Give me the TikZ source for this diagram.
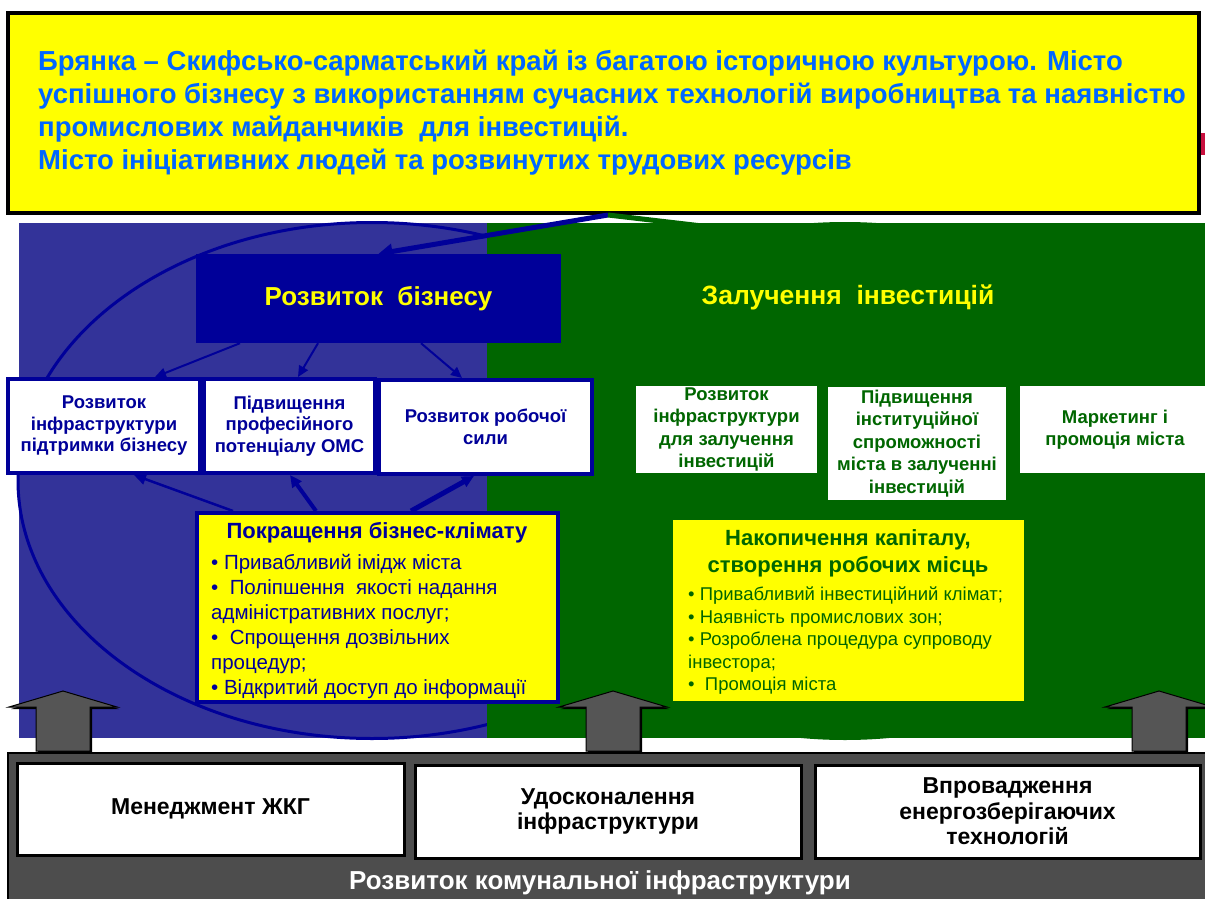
\documentclass[tikz,border=0pt]{standalone}
\usepackage{fontspec}
\setmainfont{Liberation Sans}
\usetikzlibrary{arrows.meta,calc}

\definecolor{bizblue}{HTML}{333399}
\definecolor{navy}{HTML}{000099}
\definecolor{invgreen}{HTML}{006600}
\definecolor{hlyellow}{HTML}{FFFF00}
\definecolor{visionblue}{HTML}{0066FF}
\definecolor{panelgray}{HTML}{4D4D4D}
\definecolor{arrowgray}{HTML}{555555}
\definecolor{accentred}{HTML}{C8103E}

\newcommand{\fs}[2]{\fontsize{#1}{#2}\selectfont}

\begin{document}
\begin{tikzpicture}[x=1pt,y=-1pt,
  navybox/.style={draw=navy, line width=4pt, fill=white, inner sep=0pt,
    text=navy, align=center, font=\bfseries\fs{18.5}{21.5}},
  greenbox/.style={fill=white, inner sep=0pt, text=invgreen, align=center,
    font=\bfseries\fs{18.5}{22.5}},
  basebox/.style={draw=black, line width=3pt, fill=white, inner sep=0pt,
    text=black, align=center, font=\bfseries\fs{23}{25.5}},
  thinlink/.style={navy, line width=2pt, -{Triangle[length=11pt,width=10pt]}},
  uplink/.style={navy, -{Triangle[length=12pt,width=11pt]}},
  blockarrow/.style={fill=arrowgray, draw=black, line width=1pt, line join=miter},
]
\useasboundingbox (0,0) rectangle (1205,899);
\fill[white] (0,0) rectangle (1205,899);

% two halves of the strategy field
\fill[bizblue] (19,223) rectangle (487,738);
\draw[navy, line width=3pt] (372,480.5) ellipse [x radius=354pt, y radius=258pt];
\fill[invgreen] (487,223) rectangle (1205,738);
\draw[invgreen, line width=3pt] (845,481) ellipse [x radius=350pt, y radius=257.5pt];

% vision statement
\node[draw=black, line width=4pt, fill=hlyellow, minimum width=1191pt,
  minimum height=200pt, inner sep=0pt] (vision) at (603.5,113) {};
\fill[accentred] (1201,133) rectangle (1205,155);
\node[anchor=west, align=left, inner sep=0pt, text=visionblue,
  font=\bfseries\fs{27.5}{33}] (visiontext) at (38,113)
  {Брянка – Скифсько-сарматський край із багатою історичною культурою. Місто\\
   успішного бізнесу з використанням сучасних технологій виробництва та наявністю\\
   промислових майданчиків\ \ для інвестицій.\\
   Місто ініціативних людей та розвинутих трудових ресурсів};
\coordinate (apex) at ([xshift=4.5pt]vision.south);

% business development branch
\node[fill=navy, minimum width=365pt, minimum height=89pt, inner sep=0pt,
  text=hlyellow, font=\bfseries\fs{26}{30}] (biz) at (378.5,298.5) {Розвиток\ \ бізнесу};
\draw[navy, line width=5pt, -{Triangle[length=14pt,width=15pt]}] (apex) -- (biz.north);

% investment branch
\node[text=hlyellow, font=\bfseries\fs{26.5}{30}, inner sep=0pt] (inv) at (848,297) {Залучення\ \ інвестицій};
\coordinate (invtop) at (848,243);
\draw[invgreen, line width=5pt] (apex) -- (invtop);

\node[navybox, minimum width=192pt, minimum height=94pt] (infra) at (104,426)
  {Розвиток\\інфраструктури\\підтримки бізнесу};
\node[navybox, minimum width=171pt, minimum height=94pt] (oms) at (289.5,426)
  {Підвищення\\професійного\\потенціалу ОМС};
\node[navybox, minimum width=213pt, minimum height=94pt] (labour) at (485.5,427)
  {Розвиток робочої\\сили};

\draw[thinlink] ([xshift=-138.5pt]biz.south) -- ([xshift=51pt]infra.north);
\draw[thinlink] ([xshift=-60.5pt]biz.south) -- ([xshift=8.5pt]oms.north);
\draw[thinlink] ([xshift=42.5pt]biz.south) -- ([xshift=-23.5pt]labour.north);

% business climate
\node[draw=navy, line width=4pt, fill=hlyellow, minimum width=361pt,
  minimum height=189pt, inner sep=0pt] (climate) at (377.5,607.5) {};
\node[text=navy, font=\bfseries\fs{22}{26}, inner sep=0pt] (climatetitle) at (377,533)
  {Покращення бізнес-клімату};
\node[anchor=north west, align=left, text=navy, font=\fs{20.5}{25}, inner sep=0pt]
  (climatelist) at (211,554)
  {• Привабливий імідж міста\\
   •\ \ Поліпшення\ \ якості надання\\
   адміністративних послуг;\\
   •\ \ Спрощення дозвільних\\
   процедур;\\
   • Відкритий доступ до інформації};

\draw[uplink, line width=2.5pt] ([xshift=-144.5pt]climate.north) -- ([xshift=30pt]infra.south);
\draw[uplink, line width=4pt] ([xshift=-61.5pt]climate.north) -- ([xshift=0.5pt]oms.south);
\draw[uplink, line width=5pt] ([xshift=33.5pt]climate.north) -- ([xshift=-11.5pt]labour.south);

% investment boxes
\node[greenbox, minimum width=181pt, minimum height=87pt] (infrainv) at (726.5,429.5)
  {Розвиток\\інфраструктури\\для залучення\\інвестицій};
\node[greenbox, minimum width=178pt, minimum height=113pt] (capacity) at (917,443.5)
  {Підвищення\\інституційної\\спроможності\\міста в залученні\\інвестицій};
\node[greenbox, minimum width=190pt, minimum height=87pt] (marketing) at (1115,429.5)
  {Маркетинг і\\промоція міста};

\node[fill=hlyellow, minimum width=351pt, minimum height=181pt, inner sep=0pt] (capital) at (848.5,610.5) {};
\node[text=invgreen, align=center, font=\bfseries\fs{22}{27}, inner sep=0pt] (capitaltitle) at (848,553)
  {Накопичення капіталу,\\створення робочих місць};
\node[anchor=north west, align=left, text=invgreen, font=\fs{18.5}{22.5}, inner sep=0pt]
  (capitallist) at (688,587)
  {• Привабливий інвестиційний клімат;\\
   • Наявність промислових зон;\\
   • Розроблена процедура супроводу\\
   інвестора;\\
   •\ \ Промоція міста};

% upward block arrows from the utilities base
\foreach \c/\nm in {63/upleft, 613/upmid, 1159/upright}{
  \coordinate (\nm) at (\c,691);
  \fill[black] ([shift={(2pt,-2pt)}]\nm) -- ++(54,16) -- ++(-27,0) -- ++(0,44)
     -- ++(-54,0) -- ++(0,-44) -- ++(-27,0) -- cycle;
  \draw[blockarrow] (\nm) -- ++(54,16) -- ++(-27,0) -- ++(0,44)
     -- ++(-54,0) -- ++(0,-44) -- ++(-27,0) -- cycle;
}

% utilities base
\node[fill=panelgray, draw=black, line width=2pt, minimum width=1206pt,
  minimum height=152pt, inner sep=0pt] (base) at (611,829) {};
\node[basebox, minimum width=387pt, minimum height=92pt] (housing) at (210.5,809)
  {Менеджмент ЖКГ};
\node[basebox, minimum width=386pt, minimum height=93pt] (improve) at (608,811.5)
  {Удосконалення\\інфраструктури};
\node[basebox, minimum width=385pt, minimum height=93pt] (energy) at (1007.5,811.5)
  {Впровадження\\енергозберігаючих\\технологій};
\node[text=white, font=\bfseries\fs{26}{30}, inner sep=0pt] (basetitle) at (600,883)
  {Розвиток комунальної інфраструктури};
\end{tikzpicture}
\end{document}
